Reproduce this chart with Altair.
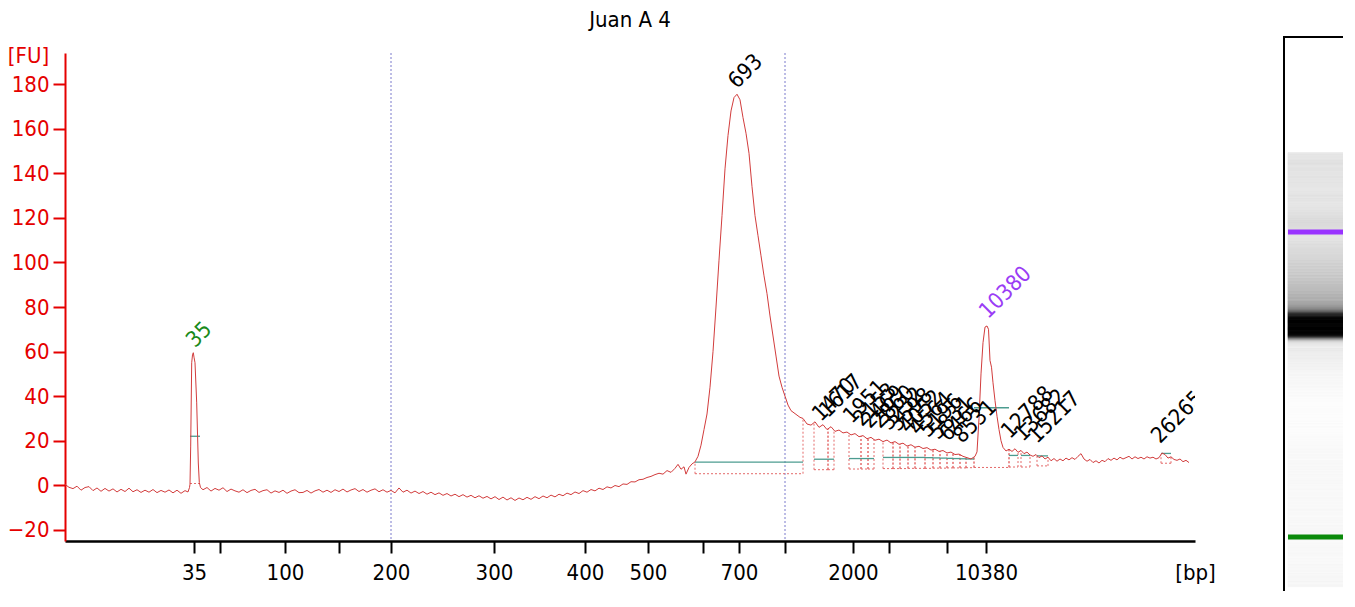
import json

import altair as alt
import numpy as np
import pandas as pd

FONT = "DejaVu Sans Condensed, Liberation Sans, sans-serif"
RED = "#e50000"
TRACE = "#d23c3c"
PINK = "#e46a6a"
TEAL = "#4c9c90"
SIZE = 22

# ladder sizes (bp) and their migration times (s); only some are labelled
ladder_bp = [35, 50, 100, 150, 200, 300, 400, 500, 600, 700, 1000, 2000, 3000, 7000, 10380]
ladder_t = [32.9, 35.5, 42.0, 47.4, 52.6, 62.9, 72.0, 78.3, 83.8, 87.4, 92.0, 98.8, 102.4, 108.2, 112.1]
shown_bp = [35, 100, 200, 300, 400, 500, 700, 2000, 10380]
smear_bp = [200, 1000]

base1_fu = [0.4, -0.9, -1.5, -0.4, -2.2, -1.0, -0.6, -2.4, -1.2, -2.7, -1.4, -2.6, -1.6, -3.0,
            -1.8, -2.8, -1.3, -2.9, -2.0, -3.2, -2.2, -3.1, -1.9, -3.3, -2.3, -3.1, -2.1, -3.4,
            -2.2, -3.6, -2.4]  # from 20.0 s every 0.4 s
peak35_t = [32.3, 32.45, 32.50, 32.57, 32.67, 32.75, 32.83, 32.90, 33.00, 33.17, 33.33, 33.43, 33.55]
peak35_fu = [-3.0, -1.0, 0.5, 17.6, 55.0, 58.5, 59.5, 57.5, 55.0, 37.0, 10.0, 1.3, -1.0]
base2_fu = [-2.0, -1.0, -2.6, -1.4, -2.2, -1.1, -2.8, -1.7, -2.5, -3.1, -2.0, -3.3, -2.3, -1.8,
            -3.2, -2.4, -2.0, -3.5, -2.5, -3.2, -2.2, -3.6, -2.6, -2.0, -3.3, -3.2, -2.3, -3.5,
            -2.5, -1.9, -3.1, -2.2, -3.2, -2.0, -2.8, -1.7, -3.0, -2.1, -1.5, -2.8, -1.9, -3.1,
            -2.2, -1.6, -2.9, -2.0, -3.1, -2.3, -3.4, -1.2, -3.1, -2.2, -3.5, -2.6, -3.7, -2.8,
            -4.0, -3.1, -4.2, -3.4, -4.5, -3.7, -4.8, -4.0, -5.1, -4.2, -5.3, -4.5, -5.6, -4.7,
            -5.8, -5.0, -6.1, -5.1, -6.4, -5.3, -6.6, -5.6, -6.8, -5.7, -6.5, -5.4, -6.3, -5.1,
            -6.0, -4.8, -5.6, -4.4, -5.2, -4.0, -4.7, -3.5, -4.2, -3.0, -3.7, -2.4, -3.1, -1.9,
            -2.5, -1.3, -1.9, -0.7, -1.2, -0.1, -0.6, 0.6, 0.4, 1.6, 1.5, 2.5, 2.7, 3.5, 4.0,
            4.8, 5.4, 5.0, 6.6, 5.8, 7.6]  # from 33.8 s every 0.4 s
rise_t = [81.3, 81.6, 81.9, 82.1, 82.4, 82.7, 83.0]
rise_fu = [9.4, 7.2, 8.3, 5.0, 8.0, 9.6, 10.5]
main_fu = [13, 18, 25, 32, 44, 60, 80, 101, 121, 142, 157, 168, 174, 175.5, 173, 165, 158, 149,
           134, 121, 112, 103, 94, 86, 76, 67, 58, 49, 44, 40, 36, 33.5, 32.5, 31.5, 30.5, 30]  # from 83.3 s every 0.3 s
tail_fu = [27.5, 27, 28.5, 26, 27.2, 25, 26.3, 24.2, 24.8, 23.5, 23.9, 22.6, 23.2, 21.8, 22.3,
           20.9, 21.5, 20.2, 20.7, 19.6, 20.3, 19.0, 19.6, 18.4, 18.9, 17.6, 18.2, 17.1, 17.5,
           16.5, 16.9, 15.8, 16.2, 15.2, 15.6, 14.5, 14.9, 13.8, 14.0, 13.0, 12.4, 11.8]  # from 94.2 s every 0.4 s
upper_t = [111.0, 111.2, 111.4, 111.6, 111.8, 112.0, 112.2, 112.35, 112.5, 112.65, 112.8, 113.0,
           113.2, 113.4, 113.6, 113.8, 114.1]
upper_fu = [13, 15, 30, 50, 64, 71, 71.5, 70, 56, 53, 46, 38, 31, 25, 20, 17, 15.4]
tail2_fu = [16.2, 15.2, 16.4, 14.8, 15.6, 14.2, 14.9, 13.6, 13.0, 13.8, 12.4, 13.2, 11.8, 12.6,
            11.0, 12.0, 10.8, 11.8, 11.0, 12.2, 11.4, 12.4, 11.6, 13.0, 14.2, 11.8, 10.8, 11.6,
            10.2, 11.0, 10.0, 11.2, 10.6, 12.0, 11.2, 12.2, 11.4, 12.6, 11.8, 12.4, 13.0, 11.8,
            12.8, 12.0, 12.6, 11.8, 12.8, 12.2, 12.6, 11.8, 12.4, 14.5, 13.8, 12.2, 12.8, 11.6,
            11.2, 11.8, 10.6, 11.2, 10.2]  # from 114.4 s every 0.3 s

# integration regions: start, end (s), baseline level (teal) and lower edge (dotted)
region_start = [32.5, 83.0, 94.9, 96.3, 98.4, 99.6, 100.3, 101.8, 102.8, 103.5, 104.3, 105.0,
                106.0, 106.8, 107.5, 108.2, 108.8, 109.5, 110.1, 110.9, 114.4, 115.6, 117.2, 129.6]
region_end = [33.5, 93.8, 96.3, 96.9, 99.6, 100.3, 100.9, 102.8, 103.5, 104.3, 105.0, 106.0,
              106.8, 107.5, 108.2, 108.8, 109.5, 110.1, 110.9, 114.4, 115.3, 116.5, 118.3, 130.6]
region_teal = [22.0, 10.4, 11.7, 11.7, 12.0, 12.0, 12.0, 12.5, 12.5, 12.5, 12.5, 12.5, 12.4, 12.3,
               12.2, 12.1, 12.0, 11.9, 11.8, 34.8, 13.4, 13.4, 13.2, 14.3]
region_bottom = [0.8, 5.2, 7.0, 7.0, 7.3, 7.3, 7.3, 7.5, 7.5, 7.5, 7.6, 7.6, 7.6, 7.7, 7.7, 7.8,
                 7.8, 7.8, 7.9, 8.0, 8.2, 8.2, 8.7, 9.9]

# peak call-outs
peak_labels = ["35", "693", "10380", "1470", "1617", "1951", "2153", "2469", "2860", "3232", "3598",
               "4052", "4564", "5196", "5831", "6466", "8531", "12788", "13682", "15217", "26265"]
peak_label_t = [33.0, 87.2, 112.3, 95.6, 96.3, 98.7, 99.7, 100.5, 101.5, 102.4, 103.3, 104.3, 105.3,
                106.3, 107.3, 108.3, 109.7, 114.5, 115.8, 117.2, 129.5]
peak_label_fu = [61.4, 177.6, 74.4, 28.3, 30.0, 27.4, 26.0, 25.1, 25.1, 24.2, 23.8, 22.9, 22.0,
                 21.1, 20.2, 19.3, 18.4, 20.6, 19.3, 18.4, 18.4]
peak_label_color = ["#1a8a1a", "black", "#9a3cf5"] + ["black"] * 18

# gel lane: marker bands and their colours
marker_bp = [35, 10380]
marker_color = ["#0a8a0a", "#9933ff"]
marker_window = [(32.4, 33.6), (110.9, 114.2)]


def grid(start, step, values):
    return list(np.round(start + step * np.arange(len(values)), 2))


trace_t = (grid(20.0, 0.4, base1_fu) + peak35_t + grid(33.8, 0.4, base2_fu) + rise_t
           + grid(83.3, 0.3, main_fu) + grid(94.2, 0.4, tail_fu) + upper_t + grid(114.4, 0.3, tail2_fu))
trace_fu = base1_fu + peak35_fu + base2_fu + rise_fu + main_fu + tail_fu + upper_fu + tail2_fu
trace = pd.DataFrame({"t": trace_t, "fu": trace_fu}).sort_values("t").reset_index(drop=True)

regions = pd.DataFrame({"t": region_start, "t_end": region_end,
                        "teal": region_teal, "bottom": region_bottom})
edges_t = region_start + region_end
edges = pd.DataFrame({"t": edges_t, "fu": region_bottom + region_bottom,
                      "fu_top": np.interp(edges_t, trace.t, trace.fu)})
edges = edges[edges.fu_top > edges.fu]

labels = pd.DataFrame({"t": peak_label_t, "fu": peak_label_fu,
                       "label": peak_labels, "color": peak_label_color})

# gel intensity: sample signal with the marker peaks taken out (they get coloured bands)
gel_fu = trace.fu.to_numpy().copy()
for lo, hi in marker_window:
    m = ((trace.t >= lo) & (trace.t <= hi)).to_numpy()
    gel_fu[m] = np.interp(trace.t[m], [lo, hi], np.interp([lo, hi], trace.t, trace.fu))
gel = pd.DataFrame({"t": trace.t, "t_next": trace.t.shift(-1).fillna(trace.t.iloc[-1] + 0.3),
                    "gel_fu": gel_fu})

tick_label = [str(b) if b in shown_bp else "" for b in ladder_bp]
label_expr = f"{json.dumps(tick_label)}[indexof({json.dumps(ladder_t)}, datum.value)]"

x_axis = alt.Axis(values=ladder_t, labelExpr=label_expr, title="[bp]", titleX=1130, titleY=21,
                  titleAlign="center", titleBaseline="top", titleColor="black", titleFont=FONT,
                  titleFontSize=SIZE, titleFontWeight="normal", domainColor="black", domainWidth=2.5,
                  tickColor="black", tickWidth=2, tickSize=12, labelColor="black", labelFont=FONT,
                  labelFontSize=SIZE, labelPadding=9, labelOverlap=False, labelFlush=False, grid=False)
y_axis = alt.Axis(values=list(range(-20, 181, 20)), title="[FU]", titleAngle=0, titleX=-37, titleY=2,
                  titleAlign="center", titleBaseline="middle", titleColor=RED, titleFont=FONT,
                  titleFontSize=SIZE, titleFontWeight="normal", domainColor=RED, domainWidth=2,
                  tickColor=RED, tickWidth=2, tickSize=12, labelColor=RED, labelFont=FONT,
                  labelFontSize=SIZE, labelPadding=4, grid=False)
x_scale = alt.Scale(domain=[20, 133], nice=False, zero=False)
y_scale = alt.Scale(domain=[-25, 194], nice=False, zero=False)
X = alt.X("t:Q", scale=x_scale, axis=x_axis)
Y = alt.Y("fu:Q", scale=y_scale, axis=y_axis)

smear = pd.DataFrame({"t": [ladder_t[ladder_bp.index(b)] for b in smear_bp]})
blue = alt.Chart(smear).mark_rule(color="#7a7acc", strokeDash=[2, 2], strokeWidth=1).encode(x=X)
bottoms = alt.Chart(regions).mark_rule(color=PINK, strokeDash=[2, 2], strokeWidth=1).encode(
    x=X, x2="t_end:Q", y=alt.Y("bottom:Q", scale=y_scale, axis=y_axis))
sides = alt.Chart(edges).mark_rule(color=PINK, strokeDash=[2, 2], strokeWidth=1).encode(
    x=X, y=Y, y2="fu_top:Q")
teal = alt.Chart(regions).mark_rule(color=TEAL, strokeWidth=1.3).encode(
    x=X, x2="t_end:Q", y=alt.Y("teal:Q", scale=y_scale, axis=y_axis))
line = alt.Chart(trace).mark_line(color=TRACE, strokeWidth=1, clip=True).encode(x=X, y=Y)
text = alt.Chart(labels).mark_text(angle=315, align="left", baseline="alphabetic", font=FONT,
                                   fontSize=SIZE, clip=True).encode(
    x=X, y=Y, text="label:N", color=alt.Color("color:N", scale=None))
main = alt.layer(blue, bottoms, sides, teal, line, text)

lane = alt.Scale(domain=[0, 1], range=[1223, 1290])
gel_y = alt.Scale(domain=[20, 133], range=[533.7, 98.5])
shade = dict(domain=[-6, 0, 8, 14, 22, 35, 60, 100],
             range=["#fdfdfd", "#f5f5f5", "#ebebeb", "#e0e0e0", "#c6c6c6", "#909090", "#383838", "#000000"],
             clamp=True, interpolate="rgb")
lane_x = alt.X(datum=0, type="quantitative", scale=lane, axis=None)
lane_x2 = alt.X2(datum=1)
bands = alt.Chart(gel).mark_rect(strokeWidth=0.8).encode(
    x=lane_x, x2=lane_x2,
    y=alt.Y("t:Q", scale=gel_y, axis=None), y2="t_next:Q",
    color=alt.Color("gel_fu:Q", scale=alt.Scale(**shade), legend=None),
    stroke=alt.Stroke("gel_fu:Q", scale=alt.Scale(**shade), legend=None))
markers = [
    alt.Chart(pd.DataFrame({"t": [ladder_t[ladder_bp.index(b)]]})).mark_rule(color=c, strokeWidth=5).encode(
        x=lane_x, x2=lane_x2, y=alt.Y("t:Q", scale=gel_y, axis=None))
    for b, c in zip(marker_bp, marker_color)
]
frame = alt.Chart(pd.DataFrame({"k": [0]})).mark_rect(filled=False, stroke="black", strokeWidth=2).encode(
    x=alt.value(1219), x2=alt.value(1450), y=alt.value(-16), y2=alt.value(700))
gel_lane = alt.layer(bands, *markers, frame)

chart = alt.layer(main, gel_lane).resolve_scale(
    x="independent", y="independent", color="independent", stroke="independent"
).properties(
    width=1130, height=488,
    autosize=alt.AutoSizeParams(type="none"),
    padding={"left": 57, "top": 45, "right": 148, "bottom": 50},
    title=alt.TitleParams("Juan A 4", font=FONT, fontSize=SIZE, fontWeight="normal", color="black",
                          anchor="middle", frame="group", offset=4),
).configure_view(stroke=None)

chart.save("out.html", embed_options={"renderer": "svg", "actions": False})
